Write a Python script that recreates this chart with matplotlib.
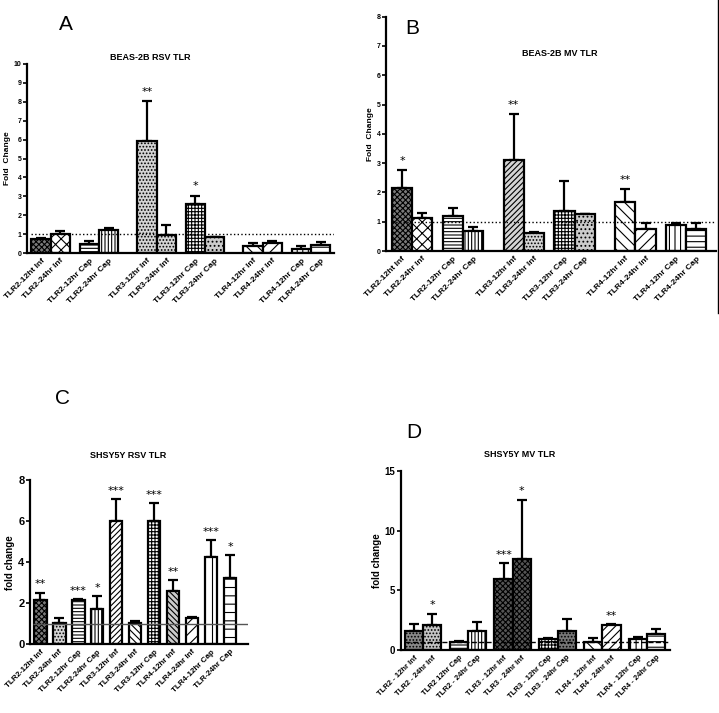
import matplotlib
matplotlib.use("Agg")
import matplotlib.pyplot as plt
from matplotlib.lines import Line2D

plt.rcParams['font.family'] = ['Liberation Sans', 'DejaVu Sans']
plt.rcParams['hatch.linewidth'] = 0.8

W, H = 719, 713

# ---- donnees ----
labels_ab = ["TLR2-12ht Inf", "TLR2-24hr Inf", "TLR2-12hr Cap", "TLR2-24hr Cap",
             "TLR3-12hr Inf", "TLR3-24hr Inf", "TLR3-12hr Cap", "TLR3-24hr Cap",
             "TLR4-12hr Inf", "TLR4-24hr Inf", "TLR4-12hr Cap", "TLR4-24hr Cap"]
labels_c = ["TLR2-12ht Inf", "TLR2-24hr Inf", "TLR2-12hr Cap", "TLR2-24hr Cap",
            "TLR3-12hr Inf", "TLR3-24hr Inf", "TLR3-12hr Cap", "TLR4-12hr Inf",
            "TLR4-24hr Inf", "TLR4-12hr Cap", "TLR-24hr Cap"]
labels_d = ["TLR2 - 12hr Inf", "TLR2 - 24hr Inf", "TLR2 12hr Cap", "TLR2 - 24hr Cap",
            "TLR3 - 12hr Inf", "TLR3 - 24hr Inf", "TLR3 - 12hr Cap", "TLR3 - 24hr Cap",
            "TLR4 - 12hr Inf", "TLR4 - 24hr Inf", "TLR4 - 12hr Cap", "TLR4 - 24hr Cap"]

mean_a = [0.73, 1.0, 0.45, 1.2, 5.93, 0.93, 2.59, 0.84, 0.36, 0.54, 0.23, 0.43]
err_a = [0.04, 0.18, 0.21, 0.12, 2.1, 0.55, 0.44, 0.02, 0.16, 0.12, 0.13, 0.16]
stars_a = ["", "", "", "", "**", "", "*", "", "", "", "", ""]

mean_b = [2.16, 1.12, 1.2, 0.68, 3.1, 0.62, 1.37, 1.28, 1.67, 0.74, 0.89, 0.74]
err_b = [0.6, 0.17, 0.28, 0.13, 1.57, 0.04, 1.02, 0.0, 0.43, 0.21, 0.06, 0.22]
stars_b = ["*", "", "", "", "**", "", "", "", "**", "", "", ""]

mean_c = [2.16, 1.05, 2.15, 1.72, 5.98, 1.02, 6.0, 2.6, 1.27, 4.27, 3.25]
err_c = [0.36, 0.22, 0.05, 0.64, 1.09, 0.12, 0.88, 0.54, 0.05, 0.82, 1.09]
stars_c = ["**", "", "***", "*", "***", "", "***", "**", "", "***", "*"]

mean_d = [1.59, 2.1, 0.7, 1.59, 5.93, 7.63, 0.9, 1.62, 0.7, 2.1, 0.9, 1.34]
err_d = [0.59, 0.92, 0.08, 0.78, 1.34, 4.94, 0.13, 0.95, 0.28, 0.05, 0.15, 0.45]
stars_d = ["", "*", "", "", "***", "*", "", "", "", "**", "", ""]

# positions des barres (en largeurs de barre)
pos_ab = [0, 1, 2.5, 3.5, 5.5, 6.5, 8, 9, 11, 12, 13.5, 14.5]
pos_c = list(range(11))
pos_d = [0, 1, 2.45, 3.45, 4.9, 5.9, 7.35, 8.35, 9.8, 10.8, 12.25, 13.25]

# motifs (couleur de fond, hachure)
style_a = [('#7a7a7a', 'xxxxxx'), ('white', 'xxx'), ('white', '-----'), ('white', '|||||'),
           ('#d4d4d4', '.....'), ('#d4d4d4', '.....'), ('white', '+++++'), ('#cccccc', '....'),
           ('white', '\\\\\\'), ('white', '///'), ('white', '|||'), ('white', '---')]
style_b = [('#7a7a7a', 'xxxxxx'), ('white', 'xxx'), ('white', '-----'), ('white', '|||||'),
           ('#d4d4d4', '//////'), ('#d4d4d4', '.....'), ('white', '+++++'), ('#cccccc', '....'),
           ('white', '\\\\\\'), ('white', '///'), ('white', '|||'), ('white', '---')]
style_c = [('#7a7a7a', 'xxxxxx'), ('#d4d4d4', '.....'), ('white', '-----'), ('white', '|||||'),
           ('white', '//////'), ('white', '\\\\\\\\\\'), ('white', '+++++'), ('#cccccc', '\\\\\\\\\\\\'),
           ('white', '///'), ('white', '||'), ('white', '--')]
style_d = [('#8a8a8a', '.....'), ('#c4c4c4', '.....'), ('white', '-----'), ('white', '|||||'),
           ('#555555', 'xxxxxx'), ('#555555', 'xxxxxx'), ('white', '+++++'), ('#777777', '.....'),
           ('white', '\\\\\\'), ('white', '////'), ('white', '|||'), ('white', '---')]


def px_axes(fig, left, right, y0, ytop):
    return fig.add_axes([left / W, (H - y0) / H, (right - left) / W, (y0 - ytop) / H])


def panel(ax, pos, mean, err, stars, styles, labels, width, ylim, yticks,
          ylabel, xlim, fs_tick, fs_lab, fs_ylab, star_off):
    for x, m, e, (fc, h) in zip(pos, mean, err, styles):
        ax.bar(x, m, width=width, color=fc, hatch=h, edgecolor='black',
               linewidth=1.6, zorder=2)
    ax.errorbar(pos, mean, yerr=[[0] * len(err), err], fmt='none', ecolor='black',
                elinewidth=1.6, capsize=3.5, capthick=1.6, zorder=1)
    for x, m, e, s in zip(pos, mean, err, stars):
        if s:
            ax.text(x, m + e + star_off, s, ha='center', va='bottom',
                    fontsize=8, family='DejaVu Sans')
    ax.set_xlim(*xlim)
    ax.set_ylim(*ylim)
    ax.set_yticks(yticks)
    ax.set_xticks(pos)
    ax.set_xticklabels(labels, rotation=45, ha='right', va='top',
                       rotation_mode='anchor', fontsize=fs_lab, fontweight='bold')
    ax.tick_params(axis='x', length=0, pad=3)
    ax.tick_params(axis='y', length=3, width=1.2, labelsize=fs_tick, pad=1)
    for t in ax.get_yticklabels():
        t.set_fontweight('bold')
    ax.spines['top'].set_visible(False)
    ax.spines['right'].set_visible(False)
    ax.spines['left'].set_linewidth(1.6)
    ax.spines['bottom'].set_linewidth(1.6)
    ax.set_ylabel(ylabel, fontsize=fs_ylab, fontweight='bold', labelpad=2)
    ax.patch.set_alpha(0)


fig = plt.figure(figsize=(W / 100, H / 100), dpi=100)

# A
ax = px_axes(fig, 27, 334, 253, 64)
panel(ax, pos_ab, mean_a, err_a, stars_a, style_a, labels_ab, 1.0, (0, 10), range(0, 11),
      "Fold  Change", (-0.73, 15.2), 5, 6, 6, 0.25)
ax.hlines(1, -0.5, 15.2, colors='black', linestyles=':', linewidth=1, zorder=3)
fig.text(150 / W, 1 - 58 / H, "BEAS-2B RSV TLR", ha='center', va='center',
         fontsize=6.5, fontweight='bold')
fig.text(66 / W, 1 - 25 / H, "A", ha='center', va='center', fontsize=15)

# B
ax = px_axes(fig, 386, 716, 251, 16.7)
panel(ax, pos_ab, mean_b, err_b, stars_b, style_b, labels_ab, 1.0, (0, 8), range(0, 9),
      "Fold  Change", (-0.79, 15.47), 5, 6, 6, 0.15)
ax.hlines(1, -0.5, 15.47, colors='black', linestyles=':', linewidth=1, zorder=3)
fig.text(560 / W, 1 - 54 / H, "BEAS-2B MV TLR", ha='center', va='center',
         fontsize=6.5, fontweight='bold')
fig.text(412 / W, 1 - 28 / H, "B", ha='center', va='center', fontsize=15)

# C
ax = px_axes(fig, 30, 248, 644.3, 480)
panel(ax, pos_c, mean_c, err_c, stars_c, style_c, labels_c, 0.68, (0, 8), [0, 2, 4, 6, 8],
      "fold change", (-0.53, 10.95), 8, 5.8, 7, 0.15)
ax.hlines(1, -0.35, 10.95, colors='#555555', linestyles='-', linewidth=1, zorder=3)
fig.text(128 / W, 1 - 456 / H, "SHSY5Y RSV TLR", ha='center', va='center',
         fontsize=6.5, fontweight='bold')
fig.text(62 / W, 1 - 399 / H, "C", ha='center', va='center', fontsize=15)

# D
ax = px_axes(fig, 401, 670, 650, 471)
panel(ax, pos_d, mean_d, err_d, stars_d, style_d, labels_d, 1.0, (0, 15), [0, 5, 10, 15],
      "fold change", (-0.71, 14.0), 7, 5.5, 7, 0.3)
ax.hlines(0.7, -0.5, 14.0, colors='black', linestyles='--', linewidth=1, zorder=3)
fig.text(520 / W, 1 - 455 / H, "SHSY5Y MV TLR", ha='center', va='center',
         fontsize=6.5, fontweight='bold')
fig.text(414 / W, 1 - 432 / H, "D", ha='center', va='center', fontsize=15)

# trait vertical a droite du panneau B
fig.add_artist(Line2D([718 / W, 718 / W], [1, 1 - 313 / H], color='black', linewidth=1))

fig.savefig("out.png", dpi=100)
